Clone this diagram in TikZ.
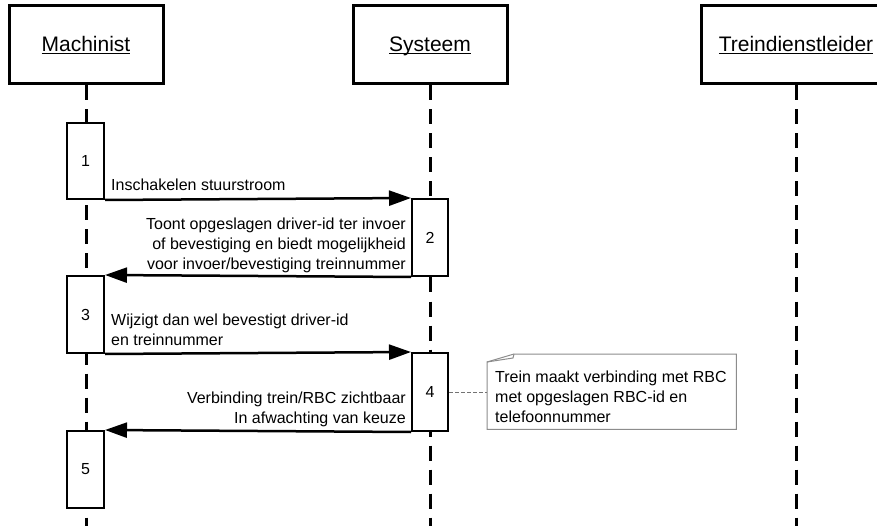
\documentclass[tikz,border=0pt]{standalone}
\usepackage{fontspec}
\setmainfont{Liberation Sans}
\usetikzlibrary{arrows.meta}
\newcommand\hdul[1]{\setbox0=\hbox{#1}\dp0=0pt\underline{\box0}}
\begin{document}
\begin{tikzpicture}[x=1pt,y=-1pt,
  head/.style={draw, line width=3pt, minimum height=78pt, inner sep=0pt,
    font=\fontsize{21}{25}\selectfont},
  act/.style={draw, fill=white, line width=2pt, minimum width=37pt, inner sep=0pt,
    font=\fontsize{16}{20}\selectfont},
  life/.style={line width=3pt, dash pattern=on 15pt off 9pt},
  msg/.style={line width=2.5pt, -{Triangle[length=22pt,width=15pt]}},
  lbl/.style={inner sep=0pt, font=\fontsize{16}{20}\selectfont},
  notebox/.style={draw=none, minimum width=249pt, minimum height=75pt, inner sep=0pt},
  notedraw/.style={draw=black!45, line width=1pt},
  notelink/.style={draw=black!55, line width=1pt, dash pattern=on 4pt off 2pt}]
\useasboundingbox (0,0) rectangle (877,526);
\fill[white] (0,0) rectangle (877,526);
% headers
\node[head, minimum width=154pt] (mach) at (86,45) {\hdul{Machinist}};
\node[head, minimum width=154pt] (sys) at (430,45) {\hdul{Systeem}};
\node[head, minimum width=190pt] (tdl) at (796,45) {\hdul{Treindienstleider}};
% lifeline ends
\coordinate (machend) at (86,526);
\coordinate (sysend) at (430,526);
\coordinate (tdlend) at (796,526);
\draw[life] (mach.south) -- (machend);
\draw[life] (sys.south) -- (sysend);
\draw[life] (tdl.south) -- (tdlend);
% activations
\node[act, minimum height=76pt] (a1) at (85.5,161) {1};
\node[act, minimum height=77pt, minimum width=36pt] (a2) at (430,237.5) {2};
\node[act, minimum height=77pt] (a3) at (85.5,314.5) {3};
\node[act, minimum height=78pt, minimum width=36pt] (a4) at (430,392) {4};
\node[act, minimum height=77pt] (a5) at (85.5,469.5) {5};
% messages
\draw[msg] (a1.south east) -- (a2.north west);
\draw[msg] (a2.south west) -- (a3.north east);
\draw[msg] (a3.south east) -- (a4.north west);
\draw[msg] (a4.south west) -- (a5.north east);
% labels
\node[lbl, anchor=north west] (t1) at (111,176) {\strut Inschakelen stuurstroom};
\node[lbl, anchor=north east, align=right] (t2) at (406,215)
  {\strut Toont opgeslagen driver-id ter invoer\\\strut of bevestiging en biedt mogelijkheid\\\strut voor invoer/bevestiging treinnummer};
\node[lbl, anchor=north west, align=left] (t3) at (111,311)
  {\strut Wijzigt dan wel bevestigt driver-id\\\strut en treinnummer};
\node[lbl, anchor=north east, align=right] (t4) at (406,389)
  {\strut Verbinding trein/RBC zichtbaar\\\strut In afwachting van keuze};
% note
\node[notebox, anchor=north west] (note) at (487,354) {};
\draw[notedraw] (note.south west) -- (note.south east) -- (note.north east)
  -- ([xshift=27pt]note.north west) -- ([yshift=-8pt]note.north west) -- cycle;
\draw[notedraw] ([xshift=27pt]note.north west) -- ([xshift=26pt,yshift=-4pt]note.north west)
  -- ([yshift=-8pt]note.north west);
\node[lbl, anchor=north west, align=left] (nt) at (495,368)
  {\strut Trein maakt verbinding met RBC\\\strut met opgeslagen RBC-id en\\\strut telefoonnummer};
\draw[notelink] (a4.east) -- (a4.east -| note.west);
\end{tikzpicture}
\end{document}
